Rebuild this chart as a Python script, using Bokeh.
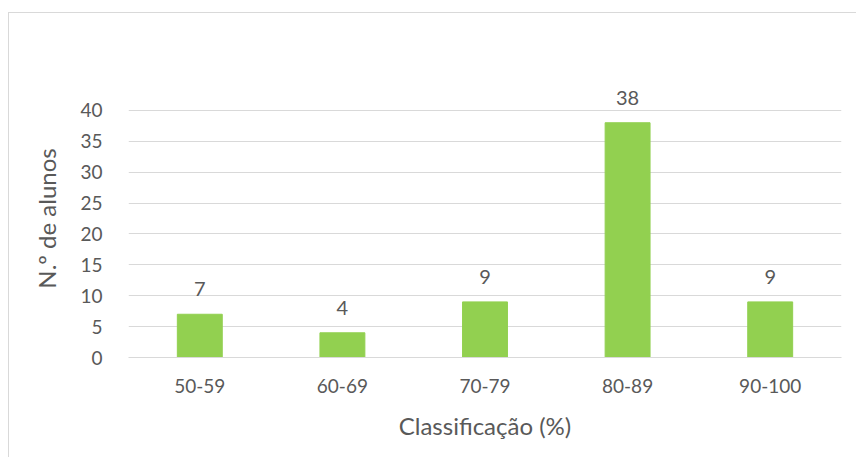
from bokeh.plotting import figure
from bokeh.models import ColumnDataSource, FixedTicker, Range1d
from bokeh.embed import file_html
from bokeh.resources import INLINE
from bokeh.core.properties import value

categories = ["50-59", "60-69", "70-79", "80-89", "90-100"]
counts = [7, 4, 9, 38, 9]
y_ticks = [0, 5, 10, 15, 20, 25, 30, 35, 40]

FONT = "Lato"
TXT = "#595959"

src = ColumnDataSource(dict(cat=categories, n=counts, lbl=[str(c) for c in counts]))

p = figure(x_range=categories, y_range=Range1d(0, 45), width=848, height=445,
           output_backend="svg", toolbar_location=None,
           min_border_left=119, min_border_right=16, min_border_top=66, min_border_bottom=101)
p.margin = (12, 0, 0, 8)
p.styles = {"border-left": "1px solid #d9d9d9", "border-top": "1px solid #d9d9d9"}

p.vbar(x="cat", top="n", width=0.315, source=src, color="#92D050")
p.text(x="cat", y="n", text="lbl", source=src, text_align="center", text_baseline="bottom",
       y_offset=-18, text_font=value(FONT), text_font_size="20px", text_color=TXT)

p.outline_line_color = None
p.xgrid.grid_line_color = None
p.ygrid.grid_line_color = "#d9d9d9"
p.ygrid.grid_line_width = 1
p.yaxis.ticker = FixedTicker(ticks=y_ticks)

p.yaxis.axis_line_color = None
p.yaxis.major_tick_line_color = None
p.yaxis.minor_tick_line_color = None
p.yaxis.major_label_standoff = 20
p.yaxis.axis_label = "N.º de alunos"
p.yaxis.axis_label_standoff = 16

p.xaxis.axis_line_color = "#d9d9d9"
p.xaxis.major_tick_line_color = None
p.xaxis.minor_tick_line_color = None
p.xaxis.major_label_standoff = 15
p.xaxis.axis_label = "Classificação (%)"
p.xaxis.axis_label_standoff = 15

for ax in (p.xaxis, p.yaxis):
    ax.major_label_text_font = FONT
    ax.major_label_text_font_size = "19px"
    ax.major_label_text_color = TXT
    ax.axis_label_text_font = FONT
    ax.axis_label_text_font_size = "24px"
    ax.axis_label_text_font_style = "normal"
    ax.axis_label_text_color = TXT

open("out.html", "w").write(file_html(p, INLINE))
